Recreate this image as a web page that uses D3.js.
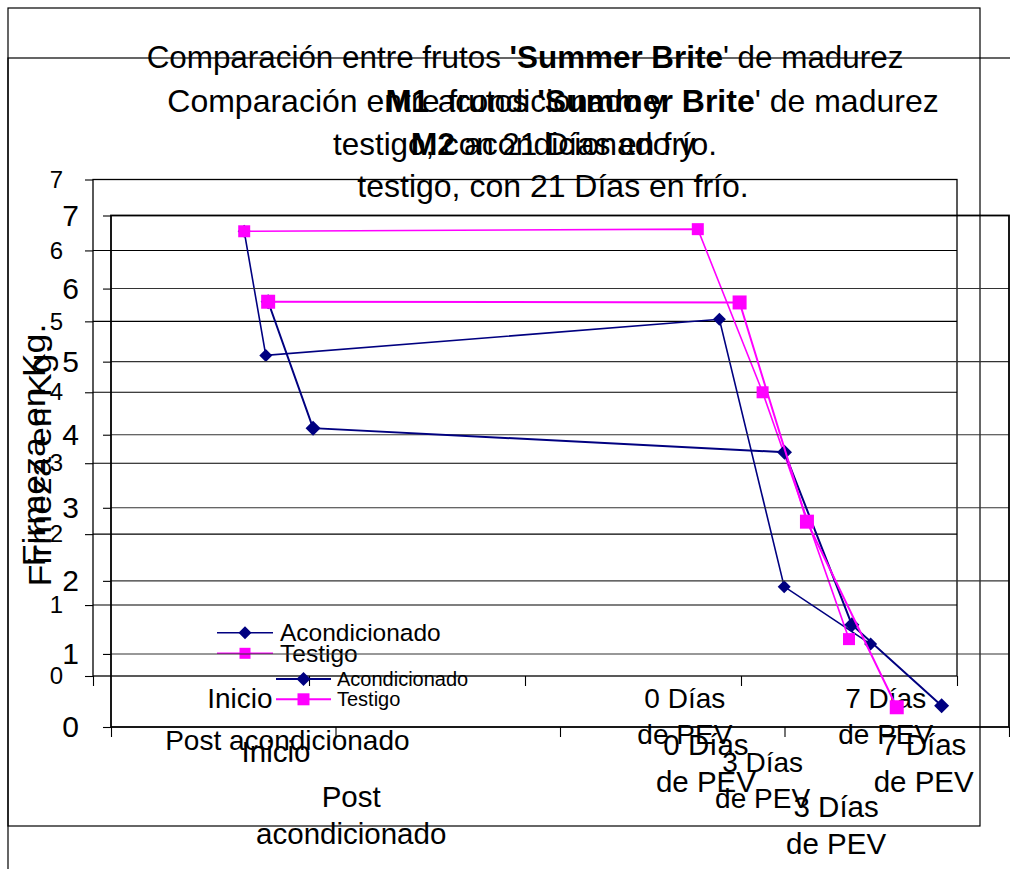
<!DOCTYPE html>
<html><head><meta charset="utf-8">
<script src="https://cdn.jsdelivr.net/npm/d3@7"></script>
<style>
body{margin:0;background:#fff}
svg{display:block}
text{font-family:"Liberation Sans",Arial,Helvetica,sans-serif;fill:#000}
</style>
</head><body>
<svg id="chart" width="1010" height="869"></svg>
<script>
// ---- data ----------------------------------------------------------
const categories = ["Inicio", "Post acondicionado", "0 Días de PEV", "3 Días de PEV", "7 Días de PEV"];
const yTicks = [0, 1, 2, 3, 4, 5, 6, 7];
const xTicks = [0, 10, 20, 30, 40];
const seriesNames = ["Acondicionado", "Testigo"];

// M1 (time position on the axis, firmness in kg)
const m1AcondPos = [7, 8, 29, 32, 36];
const m1AcondVal = [6.27, 4.52, 5.03, 1.26, 0.45];
const m1TestigoPos = [7, 28, 31, 35];
const m1TestigoVal = [6.27, 6.30, 4.00, 0.52];
const m1LabelPos = [6.8, 9.0, 27.4, 31.0, 36.7];
const m1Labels = [["Inicio"], ["Post acondicionado"], ["0 Días", "de PEV"], ["3 Días", "de PEV"], ["7 Días", "de PEV"]];

// M2
const m2AcondPos = [7, 9, 30, 33, 37];
const m2AcondVal = [5.82, 4.09, 3.76, 1.40, 0.29];
const m2TestigoPos = [7, 28, 31, 35];
const m2TestigoVal = [5.82, 5.81, 2.81, 0.27];
const m2LabelPos = [7.35, 10.7, 26.5, 32.3, 36.2];
const m2Labels = [["Inicio"], ["Post", "acondicionado"], ["0 Días", "de PEV"], ["3 Días", "de PEV"], ["7 Días", "de PEV"]];

const titleM1 = [
  [["Comparación entre frutos ", false], ["'Summer Brite", true], ["' de madurez", false]],
  [["M1", true], [" acondicionado y", false]],
  [["testigo, con 21 Días en frío.", false]]
];
const titleM2 = [
  [["Comparación entre frutos ", false], ["'Summer Brite", true], ["' de madurez", false]],
  [["M2", true], [" acondicionado y", false]],
  [["testigo, con 21 Días en frío.", false]]
];
const axisTitle = "Firmeza en Kg.";

const NAVY = "#000080", MAGENTA = "#ff00ff";

const svg = d3.select("#chart");

function diamondPath(r) {
  return `M0,${-r}L${r},0L0,${r}L${-r},0Z`;
}
function squarePath(r) {
  return `M${-r},${-r}h${2 * r}v${2 * r}h${-2 * r}Z`;
}

function drawChart(c) {
  const g = svg.append("g");

  // chart area border
  g.append("rect").attr("x", c.frame[0]).attr("y", c.frame[1])
    .attr("width", c.frame[2]).attr("height", c.frame[3])
    .attr("fill", "none").attr("stroke", "#000").attr("stroke-width", 1.2);

  const x = d3.scaleLinear().domain([0, 40]).range([c.plot.l, c.plot.r]);
  const y = d3.scaleLinear().domain([0, 7]).range([c.plot.b, c.plot.t]);

  // title
  c.title.forEach((line, i) => {
    const t = g.append("text").attr("text-anchor", "middle")
      .attr("x", c.titleX).attr("y", c.titleY[i]).attr("dy", "0.35em")
      .attr("font-size", c.titleSize);
    line.forEach(([s, b]) => t.append("tspan").attr("font-weight", b ? "bold" : "normal").text(s));
  });

  // gridlines
  g.append("g").selectAll("line").data(yTicks.filter(v => v > 0 && v < 7)).join("line")
    .attr("x1", c.plot.l).attr("x2", c.plot.r)
    .attr("y1", d => y(d)).attr("y2", d => y(d))
    .attr("stroke", c.gridColor).attr("stroke-width", 1.1);

  // plot area frame
  g.append("rect").attr("x", c.plot.l).attr("y", c.plot.t)
    .attr("width", c.plot.r - c.plot.l).attr("height", c.plot.b - c.plot.t)
    .attr("fill", "none").attr("stroke", "#000").attr("stroke-width", c.plotStroke);

  // y axis
  const ya = d3.axisLeft(y).tickValues(yTicks).tickFormat(d3.format("d")).tickSize(8).tickPadding(c.yPad);
  const yg = g.append("g").attr("transform", `translate(${c.plot.l},0)`).call(ya);
  yg.select(".domain").remove();
  yg.selectAll(".tick line").attr("stroke", "#000").attr("stroke-width", 1.1);
  yg.selectAll(".tick text").attr("font-size", c.yFont).attr("font-family", null).attr("fill", "#000");

  // x axis tick marks
  const xa = d3.axisBottom(x).tickValues(xTicks).tickSize(10).tickFormat("");
  const xg = g.append("g").attr("transform", `translate(0,${c.plot.b})`).call(xa);
  xg.select(".domain").remove();
  xg.selectAll(".tick line").attr("stroke", "#000").attr("stroke-width", 1.1);

  // category labels
  c.labels.forEach((lines, i) => {
    const t = g.append("text").attr("text-anchor", "middle").attr("font-size", c.xFont);
    lines.forEach((s, j) => t.append("tspan").attr("x", x(c.labelPos[i]))
      .attr("y", c.labelY[i] + j * c.labelGap).attr("dy", "0.35em").text(s));
  });

  // axis title
  g.append("text").attr("text-anchor", "middle").attr("font-size", c.axisTitleSize)
    .attr("transform", `translate(${c.axisTitleXY[0]},${c.axisTitleXY[1]}) rotate(-90) scale(1.12,1)`)
    .attr("dy", "0.35em").text(axisTitle);

  // series
  const line = d3.line().x(d => x(d[0])).y(d => y(d[1]));
  const series = [
    { name: seriesNames[0], color: NAVY, pts: d3.zip(c.acondPos, c.acondVal), shape: "diamond" },
    { name: seriesNames[1], color: MAGENTA, pts: d3.zip(c.testigoPos, c.testigoVal), shape: "square" }
  ];
  series.forEach(s => {
    g.append("path").attr("d", line(s.pts)).attr("fill", "none")
      .attr("stroke", s.color).attr("stroke-width", c.lineW);
    g.append("g").selectAll("path").data(s.pts).join("path")
      .attr("transform", d => `translate(${x(d[0])},${y(d[1])})`)
      .attr("d", s.shape === "diamond" ? diamondPath(c.diamondR) : squarePath(c.squareR))
      .attr("fill", s.color);
  });

  // legend
  series.forEach((s, i) => {
    const ly = c.legend.y + i * c.legend.dy;
    const lg = g.append("g");
    lg.append("line").attr("x1", c.legend.x).attr("x2", c.legend.x + c.legend.len)
      .attr("y1", ly).attr("y2", ly).attr("stroke", s.color).attr("stroke-width", c.lineW);
    const mx = c.legend.x + c.legend.len / 2;
    lg.append("path").attr("transform", `translate(${mx},${ly})`)
      .attr("d", s.shape === "diamond" ? diamondPath(c.legend.mr) : squarePath(c.legend.mr - 1))
      .attr("fill", s.color);
    lg.append("text").attr("x", c.legend.tx).attr("y", ly).attr("dy", "0.35em")
      .attr("font-size", c.legend.font).text(s.name);
  });
}

// M1 chart
drawChart({
  frame: [8, 8, 972, 818],
  plot: { l: 93, t: 179.5, r: 957, b: 676 },
  title: titleM1, titleX: 525, titleY: [57, 101, 144], titleSize: 31.4,
  gridColor: "#000", plotStroke: 1.3,
  yFont: 24, yPad: 22,
  xFont: 28, labels: m1Labels, labelPos: m1LabelPos,
  labelY: [698, 740, 698, 762, 698], labelGap: 36,
  axisTitleSize: 32, axisTitleXY: [34, 445],
  acondPos: m1AcondPos, acondVal: m1AcondVal,
  testigoPos: m1TestigoPos, testigoVal: m1TestigoVal,
  lineW: 1.6, diamondR: 6.5, squareR: 6,
  legend: { x: 217, y: 632.7, dy: 20.6, len: 56, tx: 280, font: 24.5, mr: 6.5 }
});

// M2 chart
drawChart({
  frame: [8, 58, 1100, 900],
  plot: { l: 111, t: 215.5, r: 1009, b: 727 },
  title: titleM2, titleX: 553, titleY: [101, 144, 186], titleSize: 32,
  gridColor: "#333", plotStroke: 1.8,
  yFont: 30, yPad: 24,
  xFont: 29.5, labels: m2Labels, labelPos: m2LabelPos,
  labelY: [752, 797, 745, 807, 745], labelGap: 37,
  axisTitleSize: 32, axisTitleXY: [40, 465],
  acondPos: m2AcondPos, acondVal: m2AcondVal,
  testigoPos: m2TestigoPos, testigoVal: m2TestigoVal,
  lineW: 2, diamondR: 7.5, squareR: 7,
  legend: { x: 276, y: 679, dy: 20.3, len: 55, tx: 337, font: 20, mr: 7 }
});
</script>
</body></html>
